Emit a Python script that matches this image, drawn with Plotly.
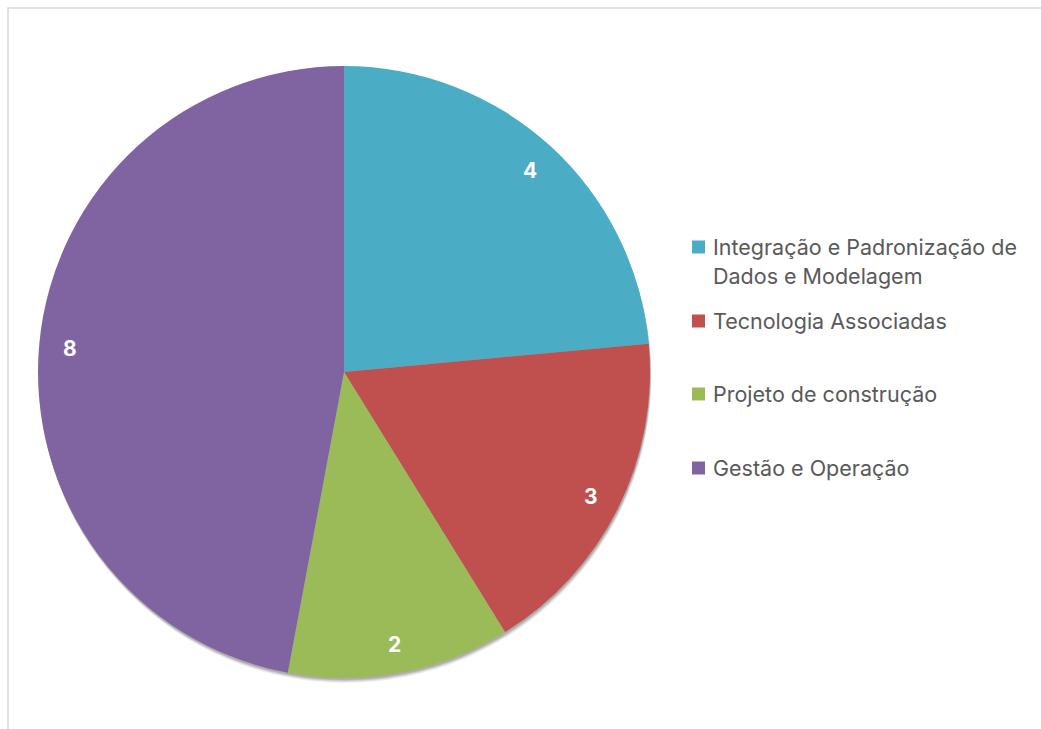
import math
import plotly.graph_objects as go

categories = ["Integração e Padronização de Dados e Modelagem", "Tecnologia Associadas",
              "Projeto de construção", "Gestão e Operação"]
legend_lines = [["Integração e Padronização de", "Dados e Modelagem"], ["Tecnologia Associadas"],
                ["Projeto de construção"], ["Gestão e Operação"]]
values = [4, 3, 2, 8]
colors = ["#4BACC6", "#C0504D", "#9BBB59", "#8064A2"]

W, H = 1041, 729
cx, cy, R = 344, 372, 306

fig = go.Figure()
fig.add_trace(go.Pie(
    labels=categories, values=values, sort=False, direction="clockwise", rotation=0,
    marker=dict(colors=colors, line=dict(width=0)),
    textinfo="none", hoverinfo="label+value", showlegend=False,
    domain=dict(x=[(cx - R) / W, (cx + R) / W], y=[(H - cy - R) / H, (H - cy + R) / H]),
))

annotations = []
total = sum(values)
cum = 0
for v in values:
    mid = (cum + v / 2) / total * 2 * math.pi
    cum += v
    px = cx + 0.9 * R * math.sin(mid)
    py = cy - 0.9 * R * math.cos(mid) + 2
    annotations.append(dict(x=px / W, y=1 - py / H, xref="paper", yref="paper", text=f"<b>{v}</b>",
                            xanchor="center", yanchor="middle",
                            showarrow=False, font=dict(size=21, color="white", family="Inter")))

shapes = [dict(type="rect", xref="paper", yref="paper", x0=8 / W, x1=1.05, y0=-0.05, y1=1 - 8 / H,
               line=dict(color="#D9D9D9", width=1.5), fillcolor="rgba(0,0,0,0)", layer="below")]

# soft drop shadow under the pie
for off, op in [(5, 0.06), (4, 0.08), (3, 0.10), (2, 0.12)]:
    shapes.append(dict(type="circle", xref="paper", yref="paper",
                       x0=(cx - R + off * 0.3) / W, x1=(cx + R + off * 0.3) / W,
                       y0=1 - (cy + R + off) / H, y1=1 - (cy - R + off) / H,
                       fillcolor=f"rgba(0,0,0,{op})", line=dict(width=0), layer="below"))

item_y = [[247, 276], [321], [394], [468]]
for lines, ys, col in zip(legend_lines, item_y, colors):
    sy = ys[0]
    shapes.append(dict(type="rect", xref="paper", yref="paper", x0=692 / W, x1=705 / W,
                       y0=1 - (sy + 6.5) / H, y1=1 - (sy - 6.5) / H, fillcolor=col, line=dict(width=0)))
    for t, y in zip(lines, ys):
        annotations.append(dict(x=711 / W, y=1 - y / H, xref="paper", yref="paper", text=t,
                                xanchor="left", yanchor="middle", showarrow=False,
                                font=dict(size=21.5, color="#595959", family="Inter")))

fig.update_layout(width=W, height=H, margin=dict(l=0, r=0, t=0, b=0),
                  paper_bgcolor="white", plot_bgcolor="white",
                  annotations=annotations, shapes=shapes)
fig.write_html("out.html")
